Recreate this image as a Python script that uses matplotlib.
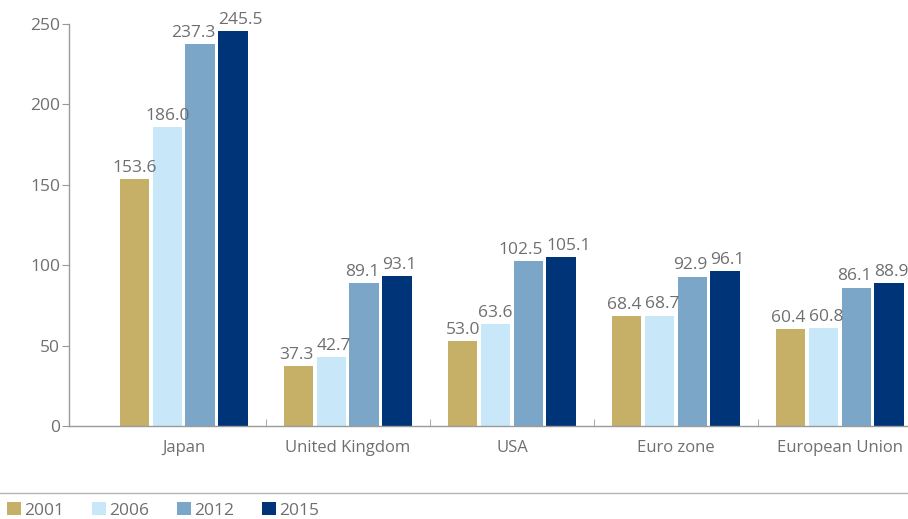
import matplotlib.pyplot as plt
import numpy as np
from matplotlib.patches import Patch
from matplotlib.lines import Line2D

plt.rcParams['font.family'] = ['Open Sans', 'DejaVu Sans']

categories = ['Japan', 'United Kingdom', 'USA', 'Euro zone', 'European Union']
years = ['2001', '2006', '2012', '2015']
v2001 = [153.6, 37.3, 53.0, 68.4, 60.4]
v2006 = [186.0, 42.7, 63.6, 68.7, 60.8]
v2012 = [237.3, 89.1, 102.5, 92.9, 86.1]
v2015 = [245.5, 93.1, 105.1, 96.1, 88.9]
series = [v2001, v2006, v2012, v2015]
colors = ['#C6B067', '#C8E7F8', '#7BA6C8', '#003479']

grey = '#6E6F72'
axis_grey = '#9A9A9A'

fig = plt.figure(figsize=(9.08, 5.19), dpi=100)
ax = fig.add_axes([0.076, 0.179, 0.924, 0.775])

x = np.arange(len(categories))
width = 0.18
offsets = [-0.3, -0.1, 0.1, 0.3]
labels = [[] for _ in categories]
for vals, off, col, yr in zip(series, offsets, colors, years):
    bars = ax.bar(x + off, vals, width, color=col, label=yr)
    for i, (b, v) in enumerate(zip(bars, vals)):
        t = ax.text(b.get_x() + b.get_width() / 2, v + 2, f'{v:.1f}',
                    ha='center', va='bottom', fontsize=12.5, color=grey, clip_on=False)
        labels[i].append(t)

ax.set_xlim(-0.70, 4.415)
ax.set_ylim(0, 250)
ax.set_yticks(np.arange(0, 251, 50))
ax.set_xticks(x)
ax.set_xticklabels(categories)
ax.set_xticks(x[:-1] + 0.5, minor=True)
ax.tick_params(axis='x', which='major', length=0, pad=10, labelsize=12, labelcolor=grey)
ax.tick_params(axis='x', which='minor', direction='in', length=5, color=axis_grey)
ax.tick_params(axis='y', length=5, color=axis_grey, labelsize=12.5, labelcolor=grey, pad=1.5)

for s in ['top', 'right']:
    ax.spines[s].set_visible(False)
for s in ['left', 'bottom']:
    ax.spines[s].set_color(axis_grey)
    ax.spines[s].set_linewidth(1)

# push neighbouring value labels apart where they collide
fig.canvas.draw()
r = fig.canvas.get_renderer()
px_per_unit = ax.transData.transform((1, 0))[0] - ax.transData.transform((0, 0))[0]
for group in labels:
    ext = [t.get_window_extent(r) for t in group]
    cx = [(e.x0 + e.x1) / 2 for e in ext]
    w = [e.width for e in ext]
    for _ in range(20):
        for j in range(len(group) - 1):
            # only matters if the texts share vertical space
            if ext[j].y1 < ext[j + 1].y0 or ext[j + 1].y1 < ext[j].y0:
                continue
            gap = (cx[j + 1] - w[j + 1] / 2) - (cx[j] + w[j] / 2)
            if gap < 3:
                d = (3 - gap) / 2
                cx[j] -= d
                cx[j + 1] += d
    for t, c in zip(group, cx):
        xd = ax.transData.inverted().transform((c, 0))[0]
        t.set_x(xd)

# separator line above legend
fig.add_artist(Line2D([0, 1], [0.050, 0.050], transform=fig.transFigure,
                      color='#B5B5B5', linewidth=1))

handles = [Patch(facecolor=c, label=y) for c, y in zip(colors, years)]
leg = fig.legend(handles=handles, loc='center left', bbox_to_anchor=(-0.006, 0.016),
                 ncol=4, frameon=False, fontsize=12.5, handlelength=0.8, handleheight=0.75,
                 handletextpad=0.2, columnspacing=1.6, borderpad=0.2)
for t in leg.get_texts():
    t.set_color(grey)

fig.savefig('out.png', dpi=100)
